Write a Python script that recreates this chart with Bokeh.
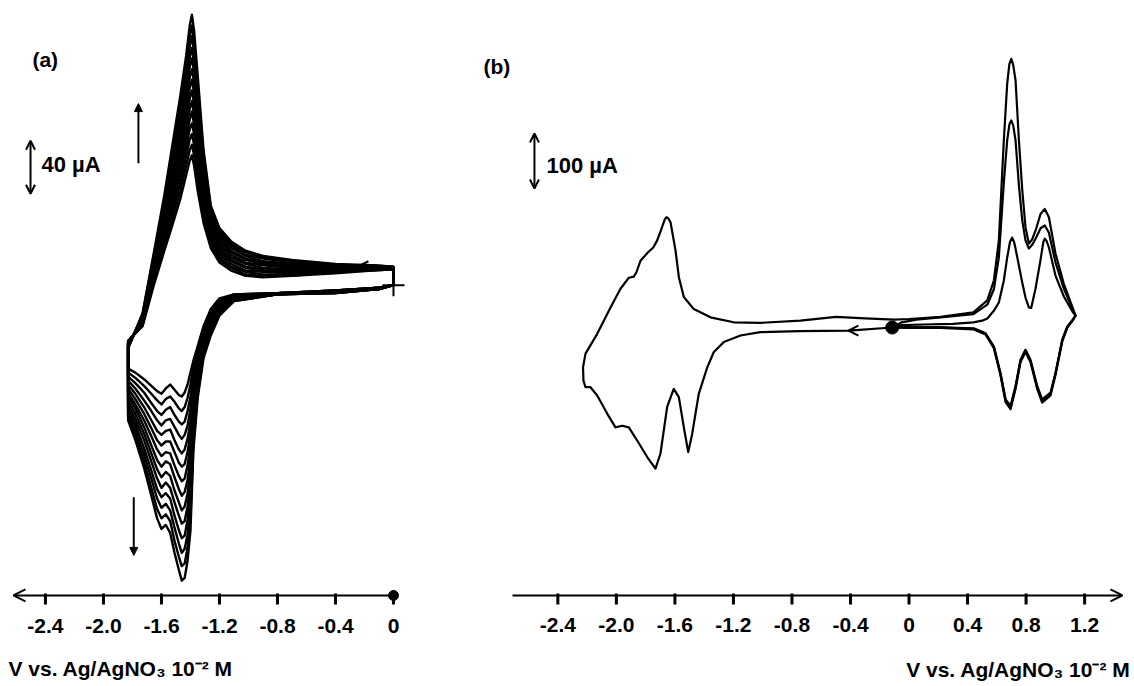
from bokeh.plotting import figure
from bokeh.layouts import row
from bokeh.models import Arrow, OpenHead, NormalHead, Range1d
from bokeh.core.properties import value
from bokeh.embed import file_html
from bokeh.resources import INLINE

# ------------------------------------------------------------------ data
TICKS_A = [-2.4, -2.0, -1.6, -1.2, -0.8, -0.4, 0.0]
TICK_LABELS_A = ["-2.4", "-2.0", "-1.6", "-1.2", "-0.8", "-0.4", "0"]
TICKS_B = [-2.4, -2.0, -1.6, -1.2, -0.8, -0.4, 0.0, 0.4, 0.8, 1.2]
TICK_LABELS_B = ["-2.4", "-2.0", "-1.6", "-1.2", "-0.8", "-0.4", "0", "0.4", "0.8", "1.2"]
X_TITLE = "V vs. Ag/AgNO\u2083 10\u207b\u00b2 M"
PANEL_A = "(a)"
PANEL_B = "(b)"
SCALE_A_UA = 40
SCALE_B_UA = 100

# (a) 14 successive cycles. Upper branch, scanned from 0 V to -1.83 V (V)
A_UP_V = [0.0, -0.15, -0.4, -0.7, -0.9, -1.02, -1.12, -1.2, -1.26, -1.31, -1.35,
          -1.375, -1.39, -1.405, -1.43, -1.47, -1.52, -1.58, -1.65, -1.73, -1.83]
# current (uA) at each potential above, one value per cycle (cycle 1 ... 14)
A_UP_I = [
    [7, 7, 7, 8, 8, 8, 8, 8, 8, 8, 9, 9, 9, 9],
    [6, 6, 7, 7, 7, 8, 8, 8, 8, 9, 9, 9, 10, 10],
    [4, 5, 5, 6, 6, 7, 7, 8, 8, 9, 9, 10, 10, 11],
    [2, 2, 3, 4, 5, 6, 7, 8, 9, 10, 11, 12, 13, 14],
    [1, 2, 3, 5, 6, 7, 8, 10, 11, 12, 13, 15, 16, 17],
    [2, 3, 5, 6, 8, 9, 11, 12, 14, 15, 17, 18, 20, 21],
    [6, 8, 9, 11, 13, 14, 16, 18, 20, 21, 23, 25, 26, 28],
    [12, 14, 16, 18, 20, 22, 24, 26, 28, 30, 32, 34, 36, 38],
    [23, 25, 28, 30, 33, 35, 38, 40, 43, 45, 48, 50, 53, 55],
    [42, 46, 50, 55, 59, 63, 67, 72, 76, 80, 84, 88, 93, 97],
    [66, 73, 79, 86, 93, 99, 106, 113, 120, 126, 133, 140, 146, 153],
    [85, 93, 101, 109, 116, 124, 132, 140, 148, 156, 163, 171, 179, 187],
    [93, 101, 109, 117, 126, 134, 142, 150, 158, 166, 174, 183, 191, 199],
    [89, 97, 105, 113, 120, 128, 136, 144, 152, 160, 167, 175, 183, 191],
    [78, 85, 92, 99, 106, 113, 120, 126, 133, 140, 147, 154, 161, 168],
    [60, 66, 72, 78, 84, 90, 96, 102, 108, 114, 120, 126, 132, 138],
    [42, 47, 52, 56, 61, 66, 71, 75, 80, 85, 90, 94, 99, 104],
    [21, 24, 27, 31, 34, 37, 40, 44, 47, 50, 53, 56, 60, 63],
    [-4, -2, 0, 2, 4, 6, 8, 9, 11, 13, 15, 17, 19, 21],
    [-36, -35, -34, -34, -33, -32, -31, -31, -30, -29, -28, -28, -27, -26],
    [-47, -47, -48, -48, -48, -49, -49, -50, -50, -51, -51, -52, -52, -53],
]
# Lower branch, scanned back from -1.83 V to 0 V
A_LOW_V = [-1.83, -1.78, -1.72, -1.67, -1.63, -1.60, -1.57, -1.54, -1.51, -1.48, -1.46, -1.44,
           -1.42, -1.40, -1.38, -1.35, -1.31, -1.26, -1.2, -1.1, -0.8, -0.4, -0.1, 0.0]
A_LOW_I = [
    [-68, -71, -74, -77, -80, -83, -86, -89, -92, -95, -98, -101, -104, -107],
    [-71, -75, -79, -83, -87, -91, -95, -98, -102, -106, -110, -114, -118, -122],
    [-76, -81, -86, -92, -97, -102, -107, -112, -117, -122, -128, -133, -138, -143],
    [-81, -87, -94, -100, -107, -113, -119, -126, -132, -138, -145, -151, -158, -164],
    [-85, -92, -100, -107, -115, -122, -129, -137, -144, -151, -159, -166, -174, -181],
    [-87, -95, -103, -111, -118, -126, -134, -142, -150, -158, -165, -173, -181, -189],
    [-83, -91, -99, -107, -115, -123, -131, -138, -146, -154, -162, -170, -178, -186],
    [-80, -89, -97, -106, -114, -123, -132, -140, -149, -158, -166, -175, -183, -192],
    [-84, -93, -103, -112, -122, -131, -141, -150, -160, -169, -179, -188, -198, -207],
    [-88, -98, -108, -118, -129, -139, -149, -159, -169, -179, -190, -200, -210, -220],
    [-89, -100, -110, -121, -132, -142, -153, -164, -175, -185, -196, -207, -217, -228],
    [-86, -97, -108, -118, -129, -140, -151, -161, -172, -183, -194, -204, -215, -226],
    [-80, -90, -100, -111, -121, -131, -141, -152, -162, -172, -182, -193, -203, -213],
    [-71, -80, -89, -98, -108, -117, -126, -135, -144, -153, -163, -172, -181, -190],
    [-62, -67, -72, -78, -83, -88, -93, -99, -104, -109, -114, -120, -125, -130],
    [-51, -54, -57, -60, -63, -66, -69, -72, -75, -78, -81, -84, -87, -90],
    [-36, -38, -40, -42, -43, -45, -47, -49, -51, -53, -54, -56, -58, -60],
    [-23, -25, -26, -28, -29, -31, -32, -34, -35, -37, -38, -40, -41, -43],
    [-15, -16, -17, -18, -19, -20, -21, -22, -23, -24, -25, -26, -27, -28],
    [-12, -12, -13, -13, -14, -14, -14, -15, -15, -15, -16, -16, -17, -17],
    [-11, -11, -11, -11, -11, -11, -11, -12, -12, -12, -12, -12, -12, -12],
    [-9, -9, -9, -9, -10, -10, -10, -10, -10, -10, -11, -11, -11, -11],
    [-7, -7, -7, -7, -7, -7, -7, -8, -8, -8, -8, -8, -8, -8],
    [-5, -5, -5, -5, -5, -5, -5, -5, -5, -5, -5, -5, -5, -5],
]

# (b) full first cycle, starting at the open-circuit point and scanning negative
B1_V = [-0.115, -0.41, -0.75, -1.016, -1.152, -1.266, -1.334, -1.379, -1.437, -1.482,
        -1.509, -1.539, -1.573, -1.608, -1.653, -1.699, -1.733, -1.789, -1.858, -1.915,
        -1.960, -2.006, -2.063, -2.131, -2.177, -2.211, -2.225, -2.228,
        -2.211, -2.131, -2.040, -1.972, -1.915, -1.881, -1.863, -1.835, -1.785, -1.748,
        -1.721, -1.692, -1.668, -1.657, -1.645, -1.630, -1.596, -1.573, -1.539, -1.471,
        -1.357, -1.198, -1.015, -0.742, -0.50, -0.30, -0.10, 0.0, 0.215, 0.44,
        0.535, 0.58, 0.614, 0.648, 0.671, 0.686, 0.699, 0.712, 0.728, 0.751,
        0.774, 0.796, 0.819, 0.842, 0.865, 0.899, 0.928, 0.956, 1.001, 1.058,
        1.116, 1.138,
        1.116, 1.081, 1.047, 1.001, 0.967, 0.910, 0.876, 0.830, 0.796, 0.762,
        0.728, 0.694, 0.660, 0.625, 0.580, 0.523, 0.443, 0.215, 0.0, -0.115]
B1_I = [-5.5, -11, -12, -14, -20, -32, -50, -78, -126, -199,
        -232, -187, -132, -117, -150, -235, -262, -241, -211, -187,
        -184, -187, -162, -129, -114, -114, -102, -78,
        -53, -17, 31, 65, 85, 87, 95, 116, 131, 140,
        153, 174, 192, 195, 193, 186, 135, 86, 50, 28,
        13, 4, 3, 7, 14, 11, 9, 10, 14, 22,
        44, 80, 153, 335, 438, 474, 483, 472, 444, 335,
        244, 177, 147, 155, 171, 201, 210, 195, 129, 74,
        32, 16,
        7, -5, -29, -89, -126, -138, -114, -66, -47, -66,
        -114, -150, -138, -90, -41, -17, -8, -5, -5, -5.5]
# (b) second cycle (anodic region only)
B2_V = [-0.115, -0.05, 0.05, 0.215, 0.44, 0.535, 0.58, 0.614, 0.648, 0.671,
        0.686, 0.699, 0.712, 0.728, 0.751, 0.774, 0.796, 0.819, 0.842, 0.865,
        0.899, 0.928, 0.956, 1.001, 1.058, 1.116, 1.138,
        1.116, 1.081, 1.047, 1.001, 0.967, 0.910, 0.876, 0.830, 0.796, 0.762,
        0.728, 0.694, 0.660, 0.625, 0.580, 0.523, 0.443, 0.215, 0.0, -0.115]
B2_I = [-5.5, 4, 9, 13, 19, 36, 64, 122, 258, 335,
        364, 371, 362, 335, 253, 189, 153, 138, 145, 156,
        175, 180, 167, 113, 65, 29, 16,
        6, -6, -31, -92, -129, -142, -117, -68, -50, -68,
        -117, -154, -141, -92, -43, -18, -9, -6, -6, -5.5]
# (b) third cycle
B3_V = [-0.115, -0.05, 0.1, 0.3, 0.44, 0.5, 0.535, 0.58, 0.614, 0.648,
        0.671, 0.690, 0.705, 0.718, 0.728, 0.751, 0.774, 0.796, 0.819, 0.835,
        0.865, 0.899, 0.918, 0.928, 0.940, 0.956, 1.001, 1.058, 1.116, 1.138,
        1.116, 1.081, 1.047, 1.001, 0.967, 0.910, 0.876, 0.830, 0.796, 0.762,
        0.728, 0.694, 0.660, 0.625, 0.580, 0.523, 0.443, 0.215, 0.0, -0.115]
B3_I = [-5.5, -1, 0, 1, 4, 7, 11, 25, 40, 80,
        122, 150, 158, 150, 138, 107, 76, 49, 31, 30,
        66, 118, 150, 156, 152, 140, 89, 51, 24, 16,
        8, -4, -28, -88, -124, -136, -112, -64, -46, -64,
        -112, -148, -136, -88, -40, -16, -7, -5, -5, -5.5]

# ------------------------------------------------------------------ helpers
FONT = value("Liberation Sans")
H = 686


def make_fig(w, xr, yr):
    p = figure(width=w, height=H, x_range=Range1d(*xr), y_range=Range1d(*yr),
               x_axis_location=None, y_axis_location=None, toolbar_location=None,
               output_backend="svg", min_border=0)
    p.outline_line_color = None
    p.grid.visible = False
    p.background_fill_color = "white"
    p.border_fill_color = "white"
    return p


def put_text(p, xs, ys, texts, size, align="center"):
    p.text(x=xs, y=ys, text=texts, text_font=FONT, text_font_style="bold",
           text_font_size=size, text_align=align, text_baseline="middle",
           text_color="black")


def arrow(p, x0, y0, x1, y1, head, both=False, lw=2):
    p.add_layout(Arrow(start=head() if both else None, end=head(),
                       x_start=x0, y_start=y0, x_end=x1, y_end=y1,
                       line_width=lw, line_color="black"))


def open_head(size):
    return lambda: OpenHead(size=size, line_width=2, line_color="black")


def solid_head(size):
    return lambda: NormalHead(size=size, line_color="black", fill_color="black")


# ------------------------------------------------------------------ panel (a)
pa = make_fig(470, (-2.710, 0.531), (-307.9, 209.8))
n_cyc = len(A_UP_I[0])
xs_a, ys_a = [], []
for k in range(n_cyc):
    up = [row_[k] for row_ in A_UP_I]
    low = [row_[k] for row_ in A_LOW_I]
    xs_a.append(A_UP_V + A_LOW_V + [A_UP_V[0]])
    ys_a.append(up + low + [up[0]])
pa.multi_line(xs_a, ys_a, line_color="black", line_width=2.4, line_join="round")

# scan start marker and direction
pa.scatter(x=[A_LOW_V[-1]], y=[A_LOW_I[-1][0]], marker="cross", size=22,
           line_width=2, color="black")
arrow(pa, -0.19, 10, -0.228, 10, open_head(8))
# growth arrows
arrow(pa, -1.759, 87, -1.759, 132, solid_head(8))
arrow(pa, -1.791, -165, -1.791, -209, solid_head(8))
# current scale bar
arrow(pa, -2.503, 64, -2.503, 64 + SCALE_A_UA, open_head(9), both=True)
put_text(pa, [-2.428], [86.4], ["40 \u00b5A"], "22px", align="left")
put_text(pa, [-2.49], [165.3], [PANEL_A], "21px", align="left")

# potential axis (arrow pointing to negative potentials)
AX_A = -239.2
arrow(pa, TICKS_A[-1], AX_A, -2.621, AX_A, open_head(12))
pa.segment(x0=TICKS_A, y0=[AX_A + 1.5] * len(TICKS_A), x1=TICKS_A,
           y1=[AX_A - 6.8] * len(TICKS_A), line_color="black", line_width=3)
pa.scatter(x=[TICKS_A[-1]], y=[AX_A], size=10, color="black")
put_text(pa, TICKS_A, [-261.9] * len(TICKS_A), TICK_LABELS_A, "21px")
put_text(pa, [-2.655], [-294.3], [X_TITLE], "21px", align="left")

# ------------------------------------------------------------------ panel (b)
pb = make_fig(664, (-2.997, 1.541), (-658.2, 589.1))
pb.multi_line([B1_V, B2_V, B3_V], [B1_I, B2_I, B3_I], line_color="black",
              line_width=2.2, line_join="round")
pb.scatter(x=[B1_V[0]], y=[B1_I[0]], size=13, color="black")
arrow(pb, -0.38, -11, -0.414, -11, open_head(10))
# current scale bar
arrow(pb, -2.56, 247.3, -2.56, 247.3 + SCALE_B_UA, open_head(9), both=True)
put_text(pb, [-2.478], [289], ["100 \u00b5A"], "22px", align="left")
put_text(pb, [-2.908], [469], [PANEL_B], "21px", align="left")

# potential axis (arrow pointing to positive potentials)
AX_B = -492.7
arrow(pb, -2.710, AX_B, 1.459, AX_B, open_head(12))
pb.segment(x0=TICKS_B, y0=[AX_B + 3.6] * len(TICKS_B), x1=TICKS_B,
           y1=[AX_B - 16.4] * len(TICKS_B), line_color="black", line_width=3)
put_text(pb, TICKS_B, [-545.5] * len(TICKS_B), TICK_LABELS_B, "21px")
put_text(pb, [1.514], [-627.3], [X_TITLE], "21px", align="right")

layout = row(pa, pb)
open("out.html", "w").write(file_html(layout, INLINE))
